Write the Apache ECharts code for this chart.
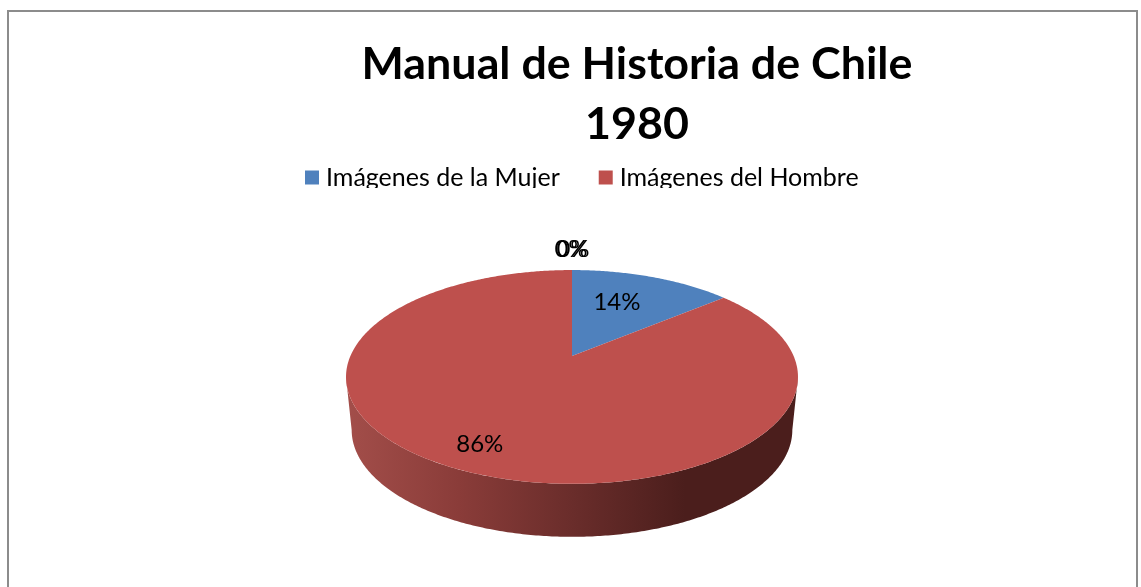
<!DOCTYPE html>
<html><head><meta charset="utf-8">
<style>html,body{margin:0;padding:0;background:#fff}#c{width:1141px;height:587px}</style>
<script src="https://cdn.jsdelivr.net/npm/echarts@6/dist/echarts.min.js"></script>
</head><body><div id="c"></div>
<script>
const chartTitle = 'Manual de Historia de Chile\n1980';
const categories = ['Imágenes de la Mujer', 'Imágenes del Hombre', '3', '4'];
const legendCategories = ['Imágenes de la Mujer', 'Imágenes del Hombre'];
const percentages = [14, 86, 0, 0];

const colors = ['#4f81bd', '#be504d', '#9bbb59', '#8064a2'];
const FONT = 'Lato';
// Perspective view of the pie disc
const view = { cx: 572, apexY: 356, yScale: 33, rx: 221.6, k: -0.196, depth: 53, bottomShrink: 0.975 };
const labelLayout = [
  { r: 0.65, dx: -10, dy: 0 },
  { r: 0.81, dx: -3, dy: 0 },
  { r: 1.0, dx: -1, dy: -21 },
  { r: 1.0, dx: 1, dy: -21 }
];
const total = percentages.reduce((a, b) => a + b, 0);
function project(theta, r) {
  const u = Math.sin(theta) * r, v = -Math.cos(theta) * r;
  const d = 1 + view.k * v;
  return [view.cx + view.rx * u / d, (view.apexY + view.yScale * v) / d];
}
function lower(p) {
  return [view.cx + (p[0] - view.cx) * view.bottomShrink, p[1] + view.depth];
}
function arc(a, b) {
  const pts = [], n = Math.max(2, Math.ceil((b - a) / 0.01));
  for (let i = 0; i <= n; i++) pts.push(project(a + (b - a) * i / n, 1));
  return pts;
}
const sideFrom = Math.PI - Math.acos(0.196), sideTo = Math.PI + Math.acos(0.196);

function makeRender(index) {
  return function (params, api) {
    const value = api.value(0);
    let start = 0;
    for (let i = 0; i < index; i++) start += percentages[i];
    const a0 = start / total * 2 * Math.PI, a1 = (start + value) / total * 2 * Math.PI;
    const children = [];
    const s0 = Math.max(a0, sideFrom), s1 = Math.min(a1, sideTo);
    if (s1 > s0) {
      const rim = arc(s0, s1);
      children.push({
        type: 'polygon',
        shape: { points: rim.concat(rim.map(lower).reverse()) },
        style: {
          fill: {
            type: 'linear', x: 0, y: 0, x2: 1, y2: 0,
            colorStops: [
              { offset: 0, color: '#a34e4a' },
              { offset: 0.25, color: '#8a3c39' },
              { offset: 0.5, color: '#6a2d2b' },
              { offset: 0.75, color: '#4b1e1c' },
              { offset: 1, color: '#4b1e1c' }
            ]
          }
        }
      });
    }
    if (a1 > a0) {
      children.push({
        type: 'polygon', z2: 2,
        shape: { points: [project(0, 0)].concat(arc(a0, a1)) },
        style: { fill: colors[index] }
      });
    }
    const mid = (a0 + a1) / 2, L = labelLayout[index], p = project(mid, L.r);
    children.push({
      type: 'text', z2: 5,
      style: {
        text: Math.round(value) + '%', x: p[0] + L.dx, y: p[1] + L.dy,
        align: 'center', verticalAlign: 'middle',
        font: '24px ' + FONT, fill: '#000'
      }
    });
    return { type: 'group', children };
  };
}

const chart = echarts.init(document.getElementById('c'));
chart.setOption({
  animation: false,
  backgroundColor: '#fff',
  title: {
    text: chartTitle, left: 632, top: 30, textAlign: 'center',
    textStyle: { fontFamily: FONT, fontWeight: 'bold', fontSize: 44.8, lineHeight: 60, color: '#000' }
  },
  legend: {
    data: legendCategories, left: 300, top: 160, icon: 'rect',
    itemWidth: 14, itemHeight: 14, itemGap: 39, selectedMode: false,
    textStyle: { fontFamily: FONT, fontSize: 25, color: '#000', padding: [0, 0, 0, 2] }
  },
  graphic: [
    { type: 'rect', z: 100, shape: { x: 295, y: 188, width: 580, height: 14 }, style: { fill: '#fff' } },
    { type: 'rect', z: 100, shape: { x: 8, y: 11, width: 1129, height: 620 }, style: { fill: 'none', stroke: '#8c8c8c', lineWidth: 2 } }
  ],
  series: categories.map((name, i) => ({
    type: 'custom', name, coordinateSystem: 'none',
    itemStyle: { color: colors[i] },
    data: [[percentages[i]]],
    renderItem: makeRender(i)
  }))
});
</script></body></html>
